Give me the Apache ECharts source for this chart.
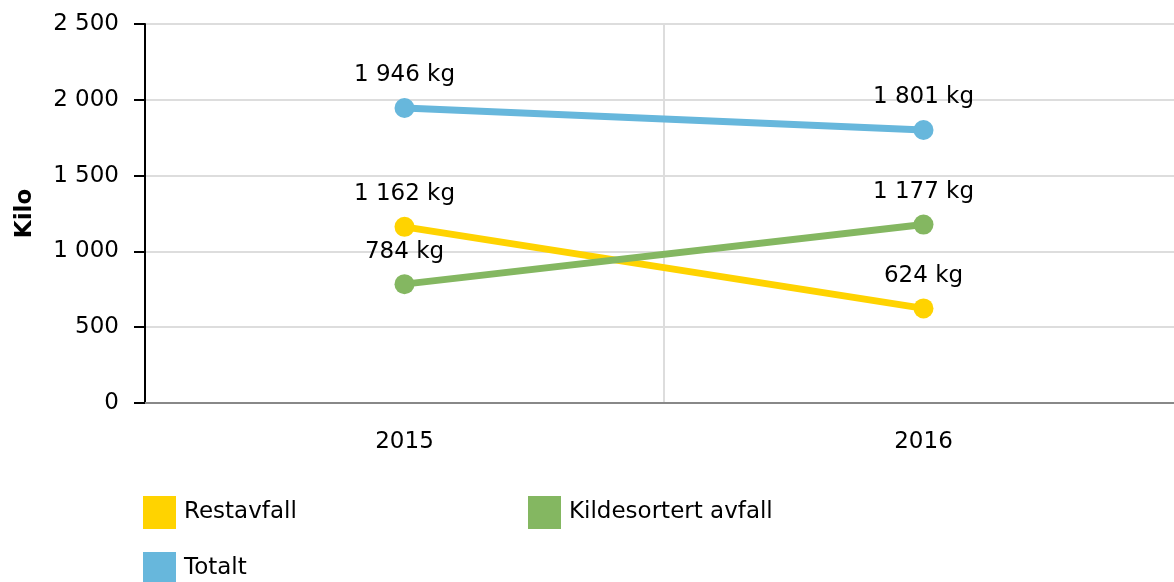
<!DOCTYPE html>
<html>
<head>
<meta charset="utf-8">
<script src="https://cdn.jsdelivr.net/npm/echarts@6/dist/echarts.min.js"></script>
<style>
  html, body { margin: 0; padding: 0; background: #fff; }
  #chart { width: 1174px; height: 582px; }
</style>
</head>
<body>
<div id="chart"></div>
<script>
// data
var years = ['2015', '2016'];
var restavfall = [1162, 624];
var kildesortert = [784, 1177];
var totalt = [1946, 1801];
var yTicks = [0, 500, 1000, 1500, 2000, 2500];

var font = 'Verdana, "DejaVu Sans", sans-serif';
var colors = { 'Restavfall': '#FFD300', 'Kildesortert avfall': '#84B761', 'Totalt': '#67B7DC' };

// tall med mellomrom som tusenskille
function fmt(v) {
    return String(v).replace(/\B(?=(\d{3})+(?!\d))/g, ' ');
}

function serie(name, data) {
    return {
        name: name,
        type: 'line',
        data: data,
        smooth: true,
        symbol: 'circle',
        symbolSize: 20,
        lineStyle: { width: 7, color: colors[name] },
        itemStyle: { color: colors[name] },
        label: {
            show: true,
            position: 'top',
            distance: 11,
            color: '#000',
            fontFamily: font,
            fontSize: 23,
            formatter: function (p) { return fmt(p.value) + ' kg'; }
        },
        emphasis: { disabled: true }
    };
}

// en legend per element, plassert som i originalen
function legend(name, left, top) {
    return {
        left: left,
        top: top,
        padding: 0,
        icon: 'rect',
        itemWidth: 33,
        itemHeight: 33,
        itemGap: 0,
        selectedMode: false,
        textStyle: { fontFamily: font, fontSize: 23, color: '#000', padding: [0, 0, 0, 3] },
        data: [name]
    };
}

var chart = echarts.init(document.getElementById('chart'));
chart.setOption({
    animation: false,
    // plottet går litt ut over høyre kant, som i originalen
    grid: { left: 145, right: -9, top: 24, bottom: 179, outerBoundsMode: 'none' },
    legend: [
        legend('Restavfall', 143, 496),
        legend('Kildesortert avfall', 528, 496),
        legend('Totalt', 143, 552)
    ],
    xAxis: {
        type: 'category',
        data: years,
        boundaryGap: true,
        axisLine: { lineStyle: { color: '#888', width: 2 } },
        axisTick: { alignWithLabel: true, length: 11, lineStyle: { color: '#aaa', width: 2 } },
        axisLabel: { margin: 28, color: '#000', fontFamily: font, fontSize: 23 },
        splitLine: { show: true, lineStyle: { color: '#ddd', width: 2 } }
    },
    yAxis: {
        type: 'value',
        min: yTicks[0],
        max: yTicks[yTicks.length - 1],
        interval: 500,
        name: 'Kilo',
        nameLocation: 'middle',
        nameGap: 108,
        nameTextStyle: { fontFamily: font, fontSize: 23, fontWeight: 'bold', color: '#000' },
        axisLine: { show: true, lineStyle: { color: '#000', width: 2 } },
        axisTick: { show: true, length: 11, lineStyle: { color: '#000', width: 2 } },
        axisLabel: {
            margin: 26,
            color: '#000',
            fontFamily: font,
            fontSize: 23,
            formatter: function (v) { return fmt(v); }
        },
        splitLine: { lineStyle: { color: '#ddd', width: 2 } }
    },
    series: [
        serie('Restavfall', restavfall),
        serie('Kildesortert avfall', kildesortert),
        serie('Totalt', totalt)
    ]
});
</script>
</body>
</html>
